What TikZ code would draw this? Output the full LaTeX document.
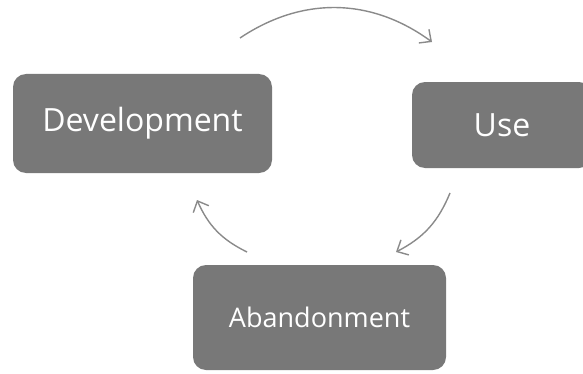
\documentclass[tikz,border=0pt]{standalone}
\usepackage{fontspec}
\setmainfont{Open Sans}
\usepackage{xcolor}
\definecolor{Slate}{HTML}{787878}
\definecolor{Ash}{HTML}{8A8A8A}
\colorlet{boxgray}{Slate}
\colorlet{arrowgray}{Ash}
\usetikzlibrary{arrows.meta,positioning}

\begin{document}
\begin{tikzpicture}[x=1pt,y=1pt,
  phase/.style={fill=boxgray,rounded corners=13pt,text=white,inner sep=0pt},
  cyc/.style={-{Straight Barb[length=9pt,width=17pt]},arrowgray,line width=1.4pt,bend left=#1}]
\clip (0,0) rectangle (583,373);
\node[phase,minimum width=259pt,minimum height=99pt,font=\fontsize{32}{38}\selectfont] (dev) at (142.5,249.5) {Development};
\node[phase,minimum width=180pt,minimum height=86pt,font=\fontsize{32}{38}\selectfont] (use) at (502,248) {Use};
\node[phase,minimum width=253pt,minimum height=105pt,font=\fontsize{27}{32}\selectfont] (aband) at (319.5,55.5) {Abandonment};
% arrow ends
\coordinate (devout) at (240,335);
\coordinate (usein) at (432,331);
\coordinate (useout) at (450,180);
\coordinate (abin) at (396,121);
\coordinate (about) at (247,121);
\coordinate (devin) at (197,173);
\draw[cyc=35] (devout) to (usein);
\draw[cyc=20] (useout) to (abin);
\draw[cyc=20] (about) to (devin);
\end{tikzpicture}
\end{document}
